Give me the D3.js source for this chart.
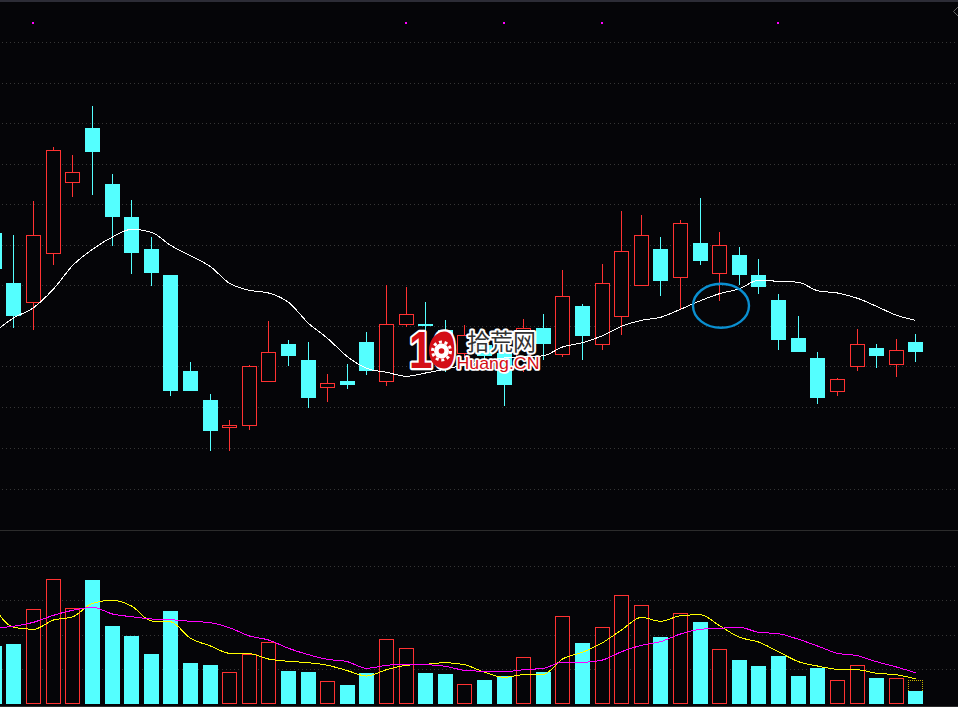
<!DOCTYPE html>
<html><head><meta charset="utf-8">
<script src="https://cdn.jsdelivr.net/npm/d3@7"></script>
<style>html,body{margin:0;padding:0;background:#050508;overflow:hidden}svg{display:block}</style>
</head><body><svg id="c" width="958" height="707"></svg>
<script>
const open  = [297,247,228,276.3,347.7,401,346,313,281,255,159,129,102.3,104.7,148.3,186,170,142.3,149,188,148.3,205.7,205.7,200,177,185,177,164,202,175.3,224,185.3,213.3,244.7,281,252.3,287,256.7,275,255,230,192,172,138.7,163.7,182,165.7,188];
const close = [261,214,294.7,379.7,357.7,378,313,277,257,139,139,99,104.7,163.7,177.7,174,131,146.7,145,159,205.7,215.7,203.7,170,195,174,145,201.7,186,233.7,194,246.7,278.7,294.7,249,306.7,269,284.7,255,243,190,178,131,150.7,185.7,174,179.7,178];
const high  = [305,295,329,383,375,423,356,330,293,255,168,135,110,165,209,190,188,156,166,198,244.3,242.3,228,210,205,192,185,211,216,260,226,266,319,315,293,310,332,298,283,271,236,214,178,152,201,186,191,196];
const low   = [255,202,200,265,332.3,334.3,283.3,255.3,243.3,133.3,139,78.3,78.3,99.3,148.3,164,121,127.3,141,155,143.3,202.3,185,158,172,170,123.3,157.3,170,172.3,170,180,194.3,244.7,234,221,265,228.3,245,236,180,178,125,133.3,159,162,153,168];
const priceMA = [198,212,222.3,241,264.3,280.7,293,300.7,297.7,284.7,274.3,263.3,246.7,239.7,237,227.7,206.7,191.7,173.3,161.7,157.7,153.7,157,161,165,169,172,173,174.3,183,187.3,194.3,203.7,209.7,212.7,220.7,229.3,236.3,241.3,249.7,248.7,247.7,239.3,237,231.7,223.7,214.7,209.7];
const volume = [58,60,94.7,124.7,95.7,124,78,68,50,93,41,39,31.7,49.7,61.7,33,32,22.7,19,30.7,64.7,55.7,31,30,19.7,24,28,46.7,32,87.7,61,76.7,108.7,98.7,67,90.7,82,54.7,44,38,48,28,36,23.7,38.7,26,25.7,13];
const volMA5 = [96,76.7,74.7,84,87,100.7,103.7,98,83,82.3,65.7,58,50.7,50.3,45,42.7,41.3,38.7,33.3,28,34.3,38.7,39.7,41.3,39.3,31.7,26.7,29.3,29.7,45,51.7,61.3,74,86.7,82.7,88.3,89.3,78.3,66.7,62,52.3,42.3,38,34.7,34.3,30.7,29.3,25];
const volMA10 = [76,77.7,81.7,88.7,93.7,96.7,90,87.3,85,84.3,82.7,81.3,76.3,68,64,55.7,49.3,44.7,42.3,35.7,38.7,39.7,39.3,37.7,33.7,32.7,32.3,34.3,35.7,41.7,41.7,44,52.3,58.7,62.3,70,74.7,75.7,76.7,71.7,70.3,64.7,58,50.7,48.3,42.3,37,31.3];
const priceGrid = [487.7,446.7,406.7,365.7,325.7,284.7,244.3,203.7,163.7,122.7,81.3,41];
const volGrid = [137.7,103.7,68.7,34.7];
const markers = [2,21,26,31,40];
const lastVolumeForecast = 23.7;
const logoNum = "10", logoCn = "拾荒网", logoEn = "Huang.CN";

const COL = {bg:"#050508",up:"#FF3232",down:"#54FFFF",grid:"#363636",rule:"#2c2c2c",white:"#FFFFFF",yellow:"#FFFF00",magenta:"#FF00FF",ring:"#0A8FD0"};
const svg = d3.select("#c");
const x = d3.scaleLinear().domain([0,47]).range([-5.615,915.82]);
const cx = i => Math.floor(x(i));
const y = d3.scaleLinear().domain([0,530]).range([530,0]);
const yv = d3.scaleLinear().domain([0,174]).range([704,530]);
const idx = d3.range(open.length);
const px = v => Math.floor(v);

svg.append("rect").attr("width",958).attr("height",707).attr("fill",COL.bg);
svg.append("rect").attr("width",958).attr("height",2).attr("fill","#2c2c36");
svg.append("rect").attr("y",530).attr("width",958).attr("height",1).attr("fill",COL.rule);
svg.append("rect").attr("y",706).attr("width",958).attr("height",1).attr("fill",COL.rule);
svg.append("path").attr("d","M958,7 L953.5,11.5 L958,16").attr("fill","none").attr("stroke","#666");

const gridLine = (vals,scale)=>svg.append("g").selectAll("line").data(vals).join("line")
  .attr("x1",2).attr("x2",958).attr("y1",d=>px(scale(d))+.5).attr("y2",d=>px(scale(d))+.5)
  .attr("stroke",COL.grid).attr("stroke-dasharray","1 3").attr("shape-rendering","crispEdges");
gridLine(priceGrid,y); gridLine(volGrid,yv);

svg.append("g").selectAll("rect").data(markers).join("rect")
  .attr("x",d=>cx(d)-1).attr("y",22).attr("width",2).attr("height",2).attr("fill",COL.magenta);

const g = svg.append("g").attr("shape-rendering","crispEdges");
idx.forEach(i=>{
  const up = close[i]>open[i];
  const c = cx(i), col = up?COL.up:COL.down;
  const t = px(y(Math.max(open[i],close[i]))), b = px(y(Math.min(open[i],close[i])));
  g.append("rect").attr("x",c).attr("y",px(y(high[i]))).attr("width",1).attr("height",Math.max(0,t-px(y(high[i])))).attr("fill",col);
  g.append("rect").attr("x",c).attr("y",b).attr("width",1).attr("height",Math.max(0,px(y(low[i]))-b)).attr("fill",col);
  if(up) g.append("rect").attr("x",c-7+.5).attr("y",t+.5).attr("width",14).attr("height",Math.max(1,b-t)).attr("fill",COL.bg).attr("stroke",col);
  else g.append("rect").attr("x",c-7).attr("y",t).attr("width",15).attr("height",Math.max(1,b-t)).attr("fill",col);
});
const gv = svg.append("g").attr("shape-rendering","crispEdges");
idx.forEach(i=>{
  const up = close[i]>open[i];
  const c = cx(i), col = up?COL.up:COL.down, t = px(yv(volume[i]));
  if(up) gv.append("rect").attr("x",c-7+.5).attr("y",t+.5).attr("width",14).attr("height",703-t).attr("fill",COL.bg).attr("stroke",col);
  else gv.append("rect").attr("x",c-7).attr("y",t).attr("width",15).attr("height",704-t).attr("fill",col);
});
{ const i=47,c=cx(i),t=px(yv(lastVolumeForecast)),b=px(yv(volume[i]));
  svg.append("path").attr("d",`M${c-6.5},${b} V${t+.5} H${c+7.5} V${b}`).attr("fill","none").attr("stroke","#C8B400")
   .attr("stroke-dasharray","1 1").attr("shape-rendering","crispEdges");
}
const lineOf = (scale)=>d3.line().x((d,i)=>cx(i)+.5).y(d=>scale(d)).curve(d3.curveMonotoneX);
const drawLine=(vals,scale,col)=>svg.append("path").datum(vals).attr("d",lineOf(scale)).attr("fill","none").attr("stroke",col).attr("stroke-width",1).attr("shape-rendering","crispEdges");
drawLine(priceMA,y,COL.white);
drawLine(volMA5,yv,COL.yellow);
drawLine(volMA10,yv,COL.magenta);

svg.append("ellipse").attr("cx",721).attr("cy",305.8).attr("rx",28).attr("ry",22).attr("fill","none").attr("stroke",COL.ring).attr("stroke-width",2.4);

const logo = svg.append("g");
logo.append("text").attr("x",409).attr("y",368).text(logoNum)
  .attr("font-family","Liberation Sans").attr("font-weight",700).attr("font-size",51)
  .attr("textLength",47).attr("lengthAdjust","spacingAndGlyphs")
  .attr("fill","#D40F16").attr("stroke","#fff").attr("stroke-width",4.5).attr("paint-order","stroke").attr("stroke-linejoin","round");
logo.append("ellipse").attr("cx",441.5).attr("cy",350.5).attr("rx",12.5).attr("ry",17.5).attr("fill","#D40F16");
logo.append("circle").attr("cx",441.5).attr("cy",351).attr("r",7.5).attr("fill","#fff");
logo.append("circle").attr("cx",441.5).attr("cy",351).attr("r",9).attr("fill","none").attr("stroke","#fff").attr("stroke-width",3).attr("stroke-dasharray","3 2.65");
logo.append("circle").attr("cx",441.5).attr("cy",351).attr("r",2.8).attr("fill","#D40F16");
logo.append("text").attr("x",467).attr("y",350).text(logoCn)
  .attr("font-family","Noto Sans CJK SC").attr("font-size",23).attr("textLength",69).attr("lengthAdjust","spacingAndGlyphs")
  .attr("fill","#333").attr("stroke","#fff").attr("stroke-width",4).attr("paint-order","stroke").attr("stroke-linejoin","round");
logo.append("text").attr("x",456.5).attr("y",368.5).text(logoEn)
  .attr("font-family","Liberation Sans").attr("font-size",17).attr("textLength",83).attr("lengthAdjust","spacingAndGlyphs")
  .attr("fill","#D40F16").attr("stroke","#fff").attr("stroke-width",3.5).attr("paint-order","stroke").attr("stroke-linejoin","round");
</script></body></html>
